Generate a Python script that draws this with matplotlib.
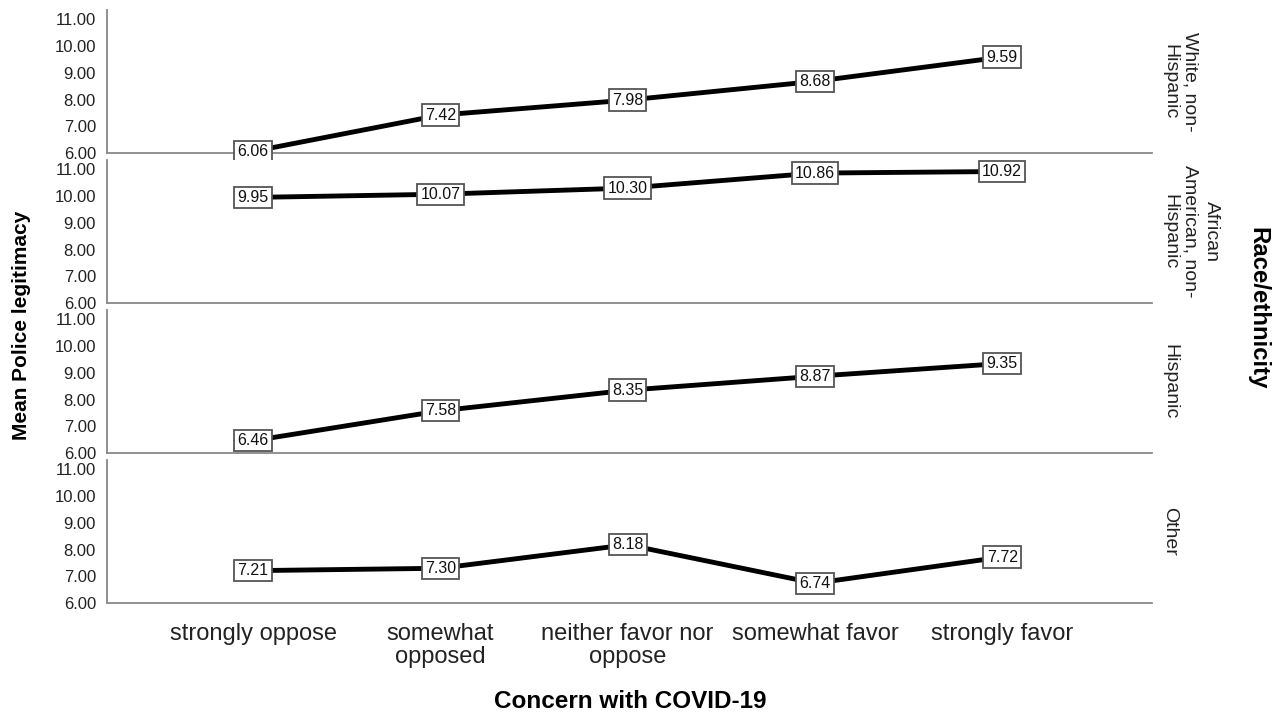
import matplotlib
matplotlib.use("Agg")
import matplotlib.pyplot as plt

plt.rcParams["font.family"] = ["Liberation Sans", "DejaVu Sans"]

# categories and panel values
categories = ["strongly oppose", "somewhat\nopposed", "neither favor nor\noppose",
              "somewhat favor", "strongly favor"]
groups = ["White, non-\nHispanic", "African\nAmerican, non-\nHispanic", "Hispanic", "Other"]
white = [6.06, 7.42, 7.98, 8.68, 9.59]
african_american = [9.95, 10.07, 10.30, 10.86, 10.92]
hispanic = [6.46, 7.58, 8.35, 8.87, 9.35]
other = [7.21, 7.30, 8.18, 6.74, 7.72]
yticks = [6, 7, 8, 9, 10, 11]

series = [white, african_american, hispanic, other]

W, H = 1276, 714
fig = plt.figure(figsize=(W / 100, H / 100), dpi=100)

left, right = 107, 1152
tops = [10, 160, 310, 460]
panel_h = 143
x = list(range(len(categories)))

for i, (vals, grp) in enumerate(zip(series, groups)):
    top = tops[i]
    ax = fig.add_axes([left / W, 1 - (top + panel_h) / H, (right - left) / W, panel_h / H])
    ax.plot(x, vals, color="black", lw=3.5, solid_capstyle="butt", zorder=2)
    for xi, v in zip(x, vals):
        ax.text(xi, v, f"{v:.2f}", ha="center", va="center", fontsize=11.5, zorder=3,
                color="#111111",
                bbox=dict(boxstyle="square,pad=0.2", fc="white", ec="#555555", lw=1.3))
    ax.set_xlim(-0.78, 4.8)
    ax.set_ylim(6, 11.35)
    ax.set_yticks(yticks)
    ax.set_yticklabels([f"{t:.2f}" for t in yticks], fontsize=12, color="#222222")
    ax.tick_params(length=0, pad=8)
    for s in ["top", "right"]:
        ax.spines[s].set_visible(False)
    for s in ["left", "bottom"]:
        ax.spines[s].set_color("#888888")
        ax.spines[s].set_linewidth(1.3)
    ax.set_xticks(x)
    if i == len(series) - 1:
        ax.set_xticklabels(categories, fontsize=17, color="#222222", linespacing=1.03)
        ax.tick_params(axis="x", pad=14.5)
    else:
        ax.set_xticklabels([])
    ax.text((1161 - left) / (right - left), 0.5, grp, transform=ax.transAxes,
            rotation=270, ha="left", va="center", multialignment="center",
            fontsize=14, color="#222222", linespacing=1.3)

fig.text(22 / W, 1 - 325 / H, "Mean Police legitimacy", rotation=90, ha="center",
         va="center", fontsize=15, fontweight="bold")
fig.text(1258 / W, 1 - 308 / H, "Race/ethnicity", rotation=270, ha="center",
         va="center", fontsize=17.3, fontweight="bold")
fig.text(630 / W, 1 - 701 / H, "Concern with COVID-19", ha="center", va="center",
         fontsize=17.5, fontweight="bold")

fig.savefig("out.png", dpi=100)
